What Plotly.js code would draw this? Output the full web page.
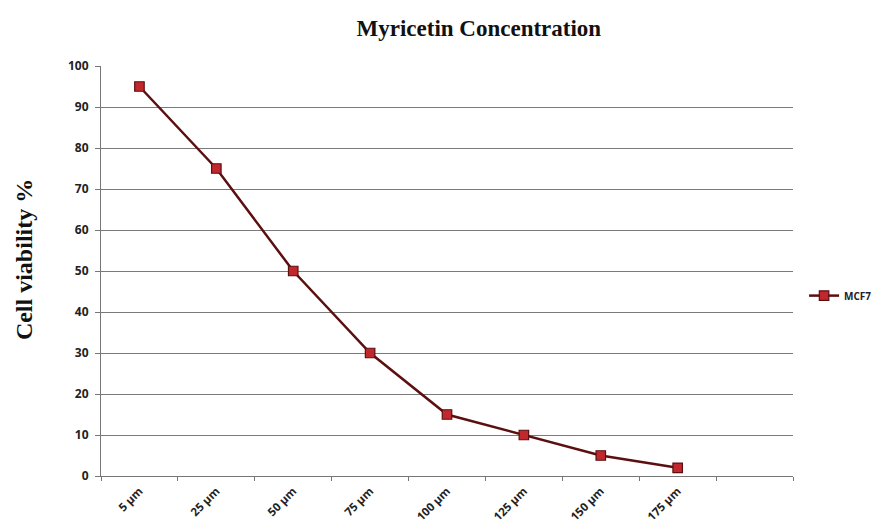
<!DOCTYPE html>
<html>
<head>
<meta charset="utf-8">
<script src="https://cdn.plot.ly/plotly-3.0.1.min.js"></script>
<style>html,body{margin:0;padding:0;background:#fff;}#chart{width:874px;height:524px;}</style>
</head>
<body>
<div id="chart"></div>
<script>
var categories = ["5 µm", "25 µm", "50 µm", "75 µm", "100 µm", "125 µm", "150 µm", "175 µm", " "];
var mcf7 = [95, 75, 50, 30, 15, 10, 5, 2];
var yTicks = [0, 10, 20, 30, 40, 50, 60, 70, 80, 90, 100];

var trace = {
  x: categories.slice(0, mcf7.length),
  y: mcf7,
  name: "MCF7",
  type: "scatter",
  mode: "lines+markers",
  line: {color: "#5c0f0f", width: 2.5},
  marker: {symbol: "square", size: 9.5, color: "#c0282e", line: {color: "#5c0f0f", width: 1.2}}
};

var layout = {
  width: 874, height: 524,
  margin: {l: 101, r: 81, t: 66, b: 48, autoexpand: false},
  paper_bgcolor: "#fff", plot_bgcolor: "#fff",
  title: {text: "Myricetin Concentration", x: 0.546, xref: "paper", xanchor: "center", y: 0.962, yref: "container",
          font: {family: "Liberation Serif, Times New Roman, serif", size: 23, color: "#111", weight: "bold"}},
  showlegend: true,
  legend: {x: 1.016, y: 0.44, xanchor: "left", yanchor: "middle", font: {family: "Open Sans, sans-serif", size: 10, color: "#222", weight: "bold"}, bgcolor: "rgba(0,0,0,0)", itemwidth: 30, tracegroupgap: 0},
  xaxis: {
    type: "category",
    categoryorder: "array", categoryarray: categories,
    range: [-0.5, 8.5],
    tickson: "boundaries",
    ticks: "outside", ticklen: 4, tickcolor: "#777",
    showgrid: false, zeroline: false,
    showline: true, linecolor: "#777", linewidth: 1,
    tickangle: -45,
    ticklabelstandoff: 3,
    tickfont: {family: "Open Sans, sans-serif", size: 11.5, color: "#222", weight: "bold"}
  },
  yaxis: {
    range: [0, 100],
    tickvals: yTicks,
    ticks: "outside", ticklen: 5, tickcolor: "#777",
    showgrid: true, gridcolor: "#7a7a7a", gridwidth: 1,
    zeroline: false, showline: true, linecolor: "#777", linewidth: 1,
    ticklabelstandoff: 4,
    tickfont: {family: "Open Sans, sans-serif", size: 12, color: "#222", weight: "bold"}
  },
  annotations: [{
    text: "Cell viability %", xref: "paper", yref: "paper", x: -0.111, y: 0.527,
    xanchor: "center", yanchor: "middle", textangle: -90, showarrow: false,
    font: {family: "Liberation Serif, Times New Roman, serif", size: 24, color: "#111", weight: "bold"}
  }]
};

Plotly.newPlot("chart", [trace], layout, {displayModeBar: false, staticPlot: true});
</script>
</body>
</html>
